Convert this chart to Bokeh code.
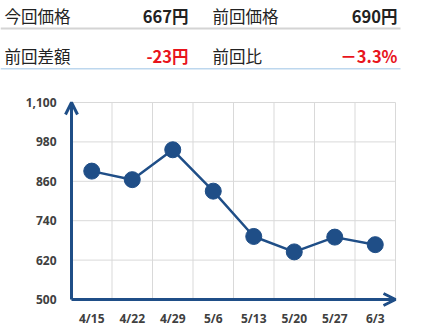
from bokeh.plotting import figure
from bokeh.models import Range1d, FixedTicker, Arrow, OpenHead, Label, BoxAnnotation, LinearAxis
from bokeh.embed import file_html
from bokeh.resources import INLINE

dates = ["4/15", "4/22", "4/29", "5/6", "5/13", "5/20", "5/27", "6/3"]
prices = [891, 865, 956, 830, 692, 645, 690, 667]
y_ticks = [500, 620, 740, 860, 980, 1100]
y_tick_labels = ["500", "620", "740", "860", "980", "1,100"]

header_labels = ["今回価格", "前回価格", "前回差額", "前回比"]
header_values = ["667円", "690円", "-23円", "－3.3%"]

BLUE = "#1F4E87"
RED = "#E8141C"
TXT = "#222222"
GRID = "#d9d9d9"
JP = "Noto Sans CJK JP"

W, H = 428, 334
n = len(dates)
# pixel geometry of the plotting area (axis origin at px 71/299, top-right at 395/102)
X0, X1, Y0, Y1 = 71, 395, 299, 102
pxx = (X1 - X0) / n
pxy = (Y0 - Y1) / (y_ticks[-1] - y_ticks[0])


def dx(px):
    return (px - X0) / pxx


def dy(py):
    return y_ticks[-1] + (Y1 - py) / pxy


p = figure(width=W, height=H,
           x_range=Range1d(dx(0), dx(W)), y_range=Range1d(dy(H), dy(0)),
           x_axis_location=None, y_axis_location=None,
           output_backend="svg", toolbar_location=None, min_border=0)
p.outline_line_color = None
p.grid.visible = False

# grid lines
gx = list(range(n + 1))
p.segment(x0=gx, y0=[y_ticks[0]] * len(gx), x1=gx, y1=[y_ticks[-1]] * len(gx),
          line_color=GRID, line_width=1)
p.segment(x0=[0] * len(y_ticks), y0=y_ticks, x1=[n] * len(y_ticks), y1=y_ticks,
          line_color=GRID, line_width=1)

centers = [i + 0.5 for i in range(n)]
xaxis = LinearAxis(fixed_location=y_ticks[0], ticker=FixedTicker(ticks=centers),
                   major_label_overrides={c: d for c, d in zip(centers, dates)})
yaxis = LinearAxis(fixed_location=0, ticker=FixedTicker(ticks=y_ticks),
                   major_label_overrides={t: l for t, l in zip(y_ticks, y_tick_labels)})
for ax in (xaxis, yaxis):
    ax.axis_line_color = None
    ax.major_tick_line_color = None
    ax.minor_tick_line_color = None
    ax.major_tick_out = 0
    ax.major_tick_in = 0
    ax.minor_tick_out = 0
    ax.major_label_text_font = "Open Sans"
    ax.major_label_text_font_style = "bold"
    ax.major_label_text_font_size = "12px"
    ax.major_label_text_color = "#404040"
xaxis.major_label_standoff = 10
yaxis.major_label_standoff = 15
p.add_layout(xaxis, "below")
p.add_layout(yaxis, "left")

p.line(centers, prices, line_color=BLUE, line_width=2.5)
p.scatter(centers, prices, size=16, fill_color=BLUE, line_color=BLUE)

p.add_layout(Arrow(end=OpenHead(size=12, line_color=BLUE, line_width=3),
                   x_start=0, y_start=y_ticks[0], x_end=0, y_end=y_ticks[-1],
                   line_color=BLUE, line_width=3))
p.add_layout(Arrow(end=OpenHead(size=12, line_color=BLUE, line_width=3),
                   x_start=0, y_start=y_ticks[0], x_end=n, y_end=y_ticks[0],
                   line_color=BLUE, line_width=3))

# header
rows_y = [15, 55]
for i in range(4):
    r, c = divmod(i, 2)
    lx = 4 if c == 0 else 212
    vx = 188 if c == 0 else 397
    p.add_layout(Label(x=dx(lx), y=dy(rows_y[r]), text=header_labels[i], text_font=JP,
                       text_font_size="16.5px", text_color=TXT,
                       text_baseline="middle", text_align="left"))
    p.add_layout(Label(x=dx(vx), y=dy(rows_y[r]), text=header_values[i], text_font=JP,
                       text_font_size="16.5px", text_font_style="bold",
                       text_color=TXT if r == 0 else RED,
                       text_baseline="middle", text_align="right"))
p.add_layout(BoxAnnotation(left=dx(0), right=dx(400), top=dy(27), bottom=dy(29),
                           fill_color="#d4d4d4", fill_alpha=1, line_color=None))
p.add_layout(BoxAnnotation(left=dx(0), right=dx(400), top=dy(67.5), bottom=dy(69),
                           fill_color="#bdd7ee", fill_alpha=1, line_color=None))

open("out.html", "w").write(file_html(p, INLINE))
